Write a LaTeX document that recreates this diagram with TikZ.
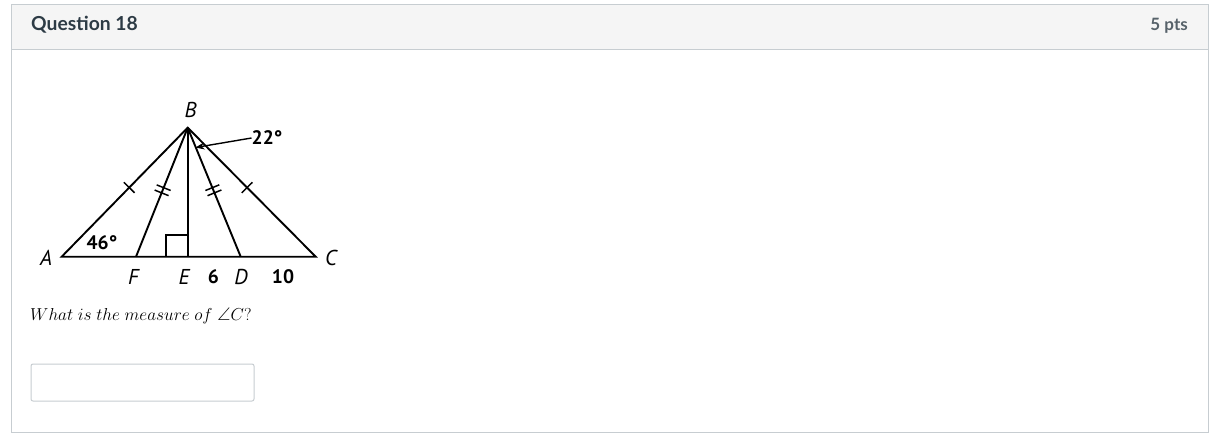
\documentclass[tikz,border=0pt]{standalone}
\usepackage{fontspec}
\usepackage{amssymb}
\setmainfont{Lato}
\newfontfamily\diagfont{PT Sans}
\usetikzlibrary{calc,arrows.meta}
\definecolor{hdrbg}{HTML}{F5F5F5}
\definecolor{cardline}{HTML}{C7CDD1}
\definecolor{hdrtext}{HTML}{2D3B45}
\tikzset{
  seg/.style={line width=1.9pt, line join=miter},
  tick/.style={line width=1.5pt},
  lbl/.style={font=\diagfont\fontsize{21.5}{21.5}\selectfont\itshape, inner sep=0pt},
  num/.style={font=\diagfont\fontsize{19.5}{19.5}\selectfont\bfseries, inner sep=0pt},
}
\begin{document}
\begin{tikzpicture}[x=1pt,y=-1pt]
\useasboundingbox (0,0) rectangle (1221,442);
% card
\fill[white] (0,0) rectangle (1221,442);
\fill[hdrbg] (11,4) rectangle (1208,49);
\draw[cardline, line width=1pt] (11,4) rectangle (1208,432);
\draw[cardline, line width=1pt] (11,49) -- (1208,49);
\node[anchor=west, inner sep=0pt, text=hdrtext, font=\fontsize{19.3}{19.3}\selectfont\bfseries] (title) at (31,25) {Question 18};
\node[anchor=east, inner sep=0pt, text=hdrtext!80, font=\fontsize{17}{17}\selectfont\bfseries] (pts) at (1188,26) {5 pts};
% points
\coordinate (A) at (61.7,256.7);
\coordinate (B) at (187.7,127.7);
\coordinate (C) at (315.7,256.7);
\coordinate (E) at (187.7,256.7);
\coordinate (F) at (136,256.7);
\coordinate (D) at (240.7,256.7);
% triangle and cevians
\draw[seg] (A) -- (B) -- (C) -- cycle;
\draw[seg] (B) -- (F);
\draw[seg] (B) -- (E);
\draw[seg] (B) -- (D);
% right angle
\draw[line width=1.6pt] ($(E)+(-22,0)$) |- ($(E)+(0,-22)$);
% single ticks
\coordinate (tAB) at ($(A)!0.536!(B)$);
\coordinate (tCB) at ($(C)!0.536!(B)$);
\draw[tick] ($(tAB)!7.5pt!90:(B)$) -- ($(tAB)!7.5pt!-90:(B)$);
\draw[tick] ($(tCB)!7.5pt!90:(B)$) -- ($(tCB)!7.5pt!-90:(B)$);
% double ticks
\foreach \P in {F,D}{
  \coordinate (m1) at ($(\P)!0.495!(B)$);
  \coordinate (m2) at ($(\P)!0.535!(B)$);
  \draw[tick] ($(m1)!7.5pt!90:(B)$) -- ($(m1)!7.5pt!-90:(B)$);
  \draw[tick] ($(m2)!7.5pt!90:(B)$) -- ($(m2)!7.5pt!-90:(B)$);
}
% labels
\node[lbl] (lB) at (190.5,110) {B};
\node[lbl] (lA) at (46,258) {A};
\node[lbl] (lC) at (331,258) {C};
\node[lbl] (lF) at (133.5,276.5) {F};
\node[lbl] (lE) at (184,276.5) {E};
\node[num] (l6) at (213.3,276.5) {6};
\node[lbl] (lD) at (241,276.5) {D};
\node[num] (l10) at (283,276.5) {10};
\node[num] (l46) at (102,243) {46°};
\node[num, anchor=west] (l22) at (251.5,138) {22°};
\coordinate (arrtip) at (195.5,147.5);
\draw[line width=1.4pt, -{Stealth[length=9pt,width=7pt]}] (l22.west) -- (arrtip);
% question
\node[anchor=west, inner sep=0pt, font=\fontsize{18.3}{18.3}\selectfont] (q) at (30,316) {$What\ is\ the\ measure\ of\ \angle C?$};
% answer box
\draw[cardline, line width=1pt, rounded corners=2pt] (31,364) rectangle (254,401);
\end{tikzpicture}
\end{document}
